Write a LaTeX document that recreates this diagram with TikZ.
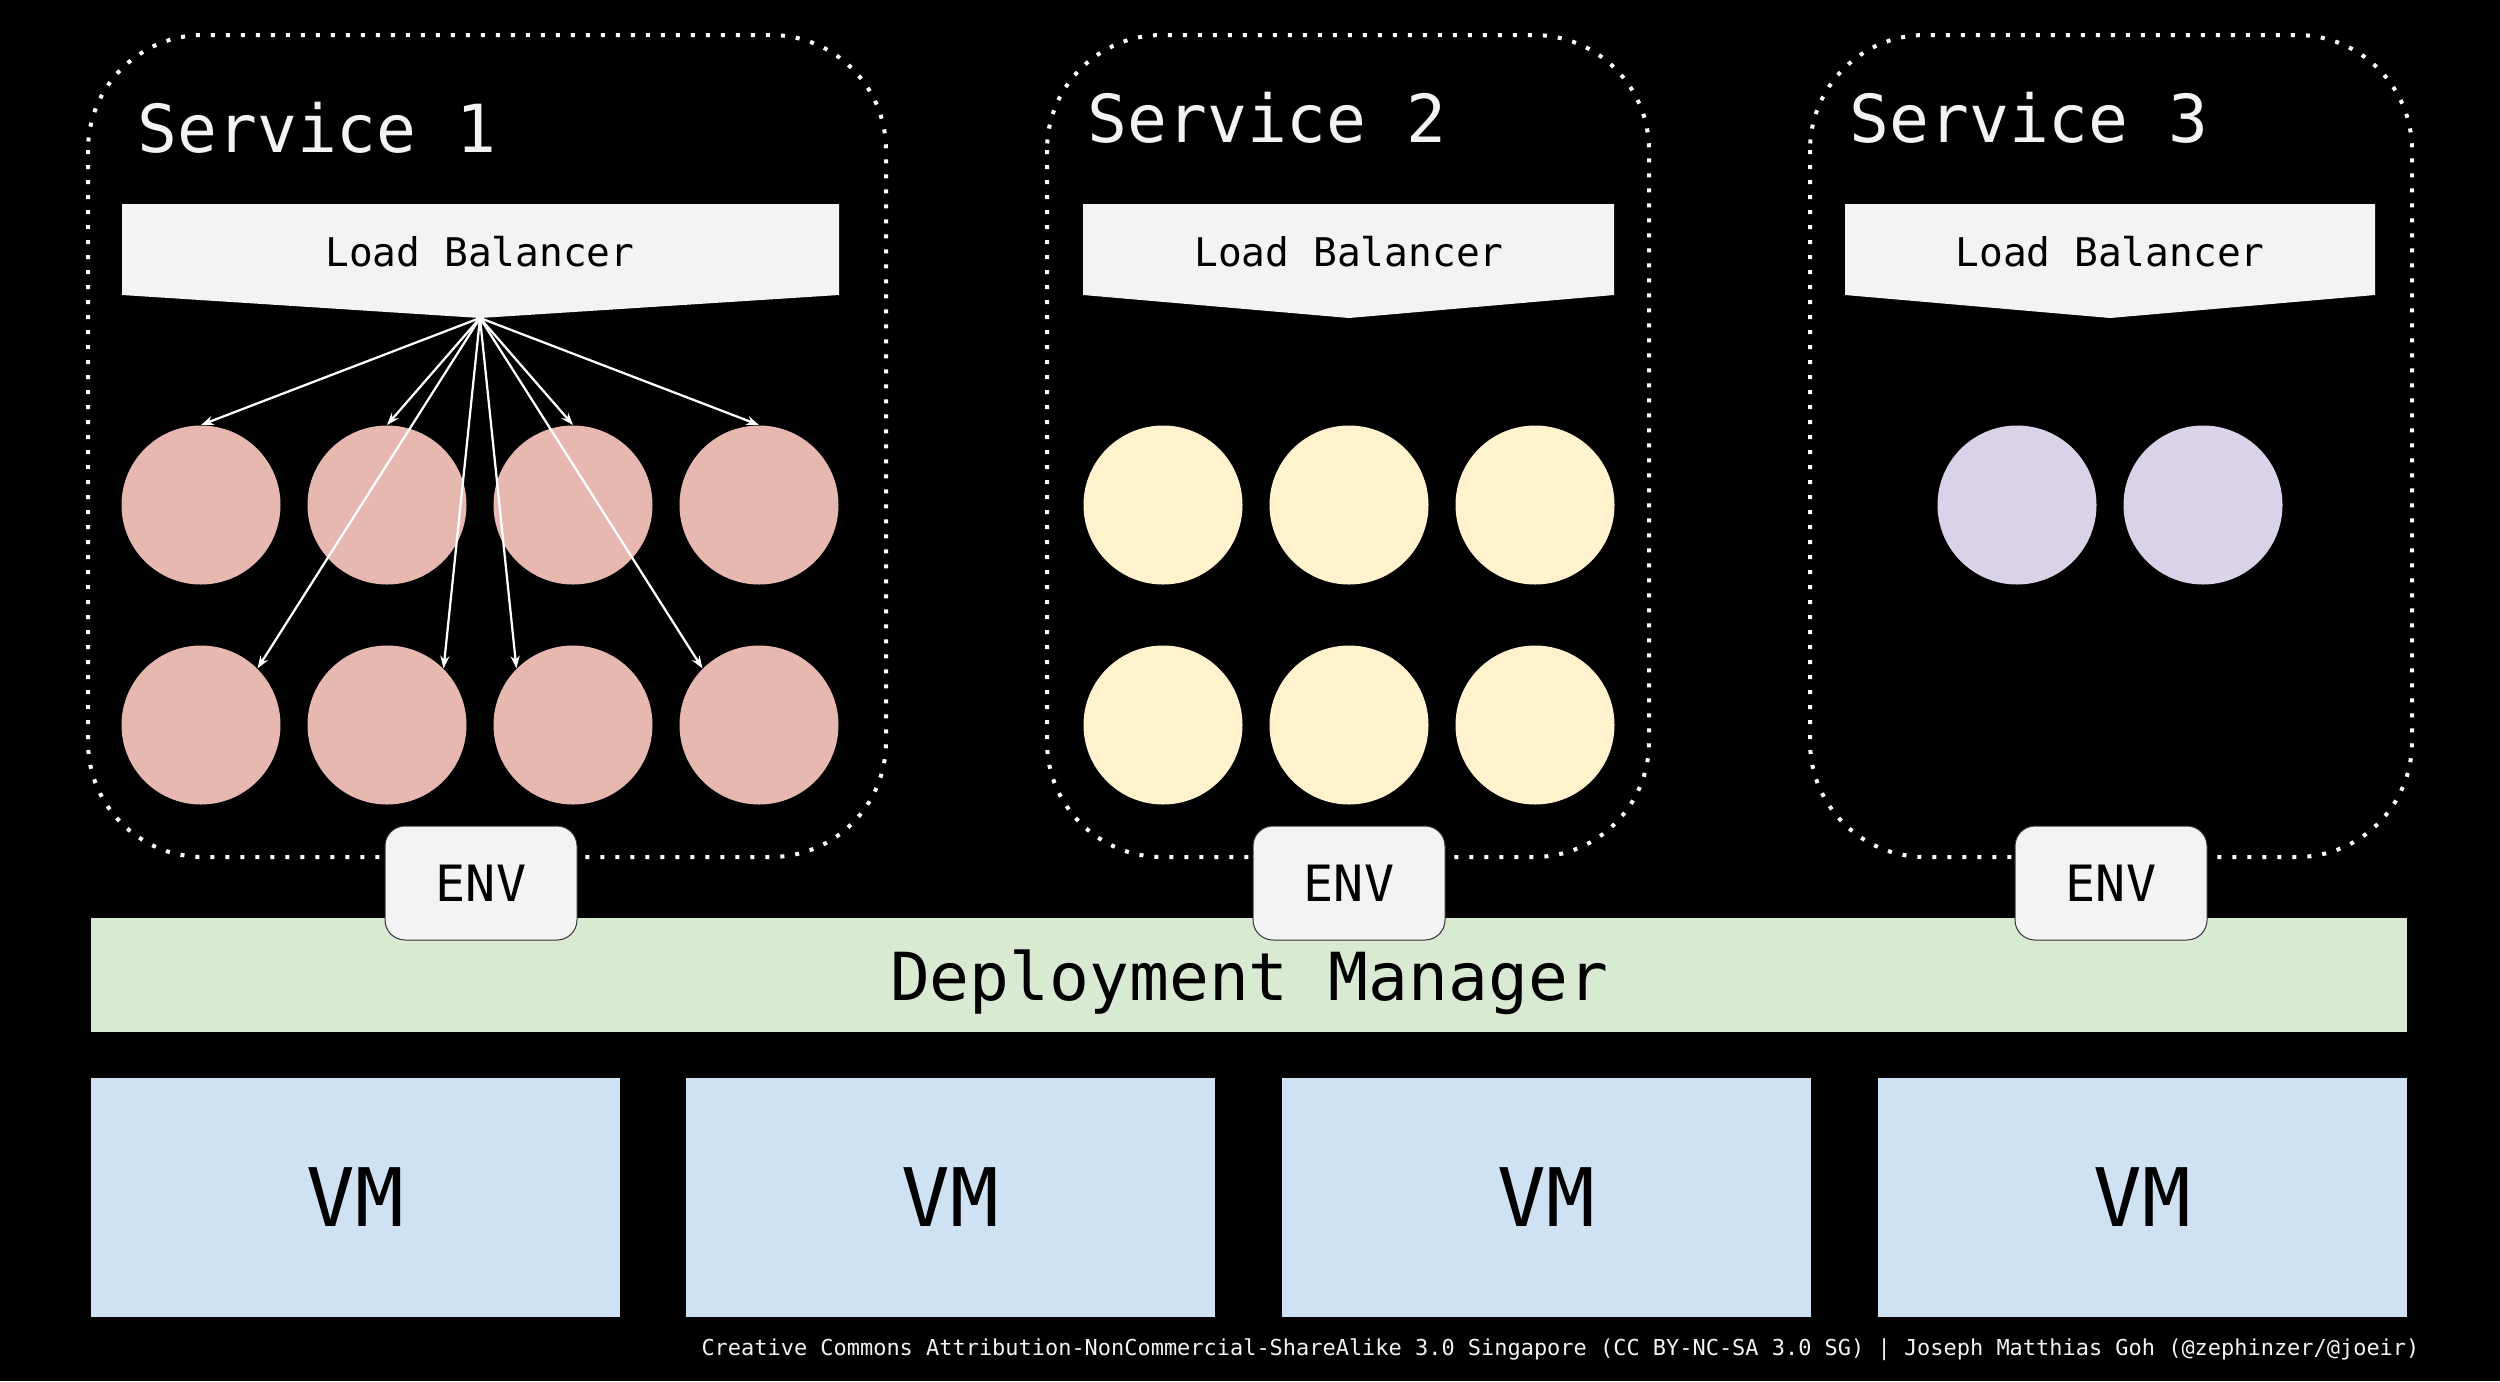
\documentclass[tikz,border=0pt]{standalone}
\usepackage{fontspec}
\setmonofont{DejaVu Sans Mono}
\usetikzlibrary{arrows.meta}
\definecolor{lbgray}{HTML}{F3F3F3}
\definecolor{podred}{HTML}{E6B8AF}
\definecolor{podyellow}{HTML}{FFF2CC}
\definecolor{podpurple}{HTML}{D9D2E9}
\definecolor{dmgreen}{HTML}{D9EAD3}
\definecolor{vmblue}{HTML}{CFE2F3}
\definecolor{envline}{HTML}{333333}
\tikzset{
  svcbox/.style={draw=white, line width=1.6pt, dash pattern=on 1.6pt off 4.4pt, rounded corners=46pt},
  svctitle/.style={anchor=base west, inner sep=0pt, text=lbgray, font=\ttfamily\fontsize{26.5pt}{30pt}\selectfont},
  lbshape/.style={fill=lbgray},
  lbtext/.style={inner sep=0pt, text=black, font=\ttfamily\fontsize{15.8pt}{18pt}\selectfont},
  pod/.style={circle, inner sep=0pt, minimum size=63.6pt},
  envbox/.style={draw=envline, line width=0.4pt, fill=lbgray, rounded corners=8pt, minimum width=76.8pt, minimum height=45.6pt, inner sep=0pt, text=black, font=\ttfamily\fontsize{20pt}{24pt}\selectfont},
  dmbar/.style={fill=dmgreen, minimum width=926.4pt, minimum height=45.6pt, inner sep=0pt, text depth=0pt, text=black, font=\ttfamily\fontsize{26.5pt}{30pt}\selectfont},
  vmbox/.style={fill=vmblue, minimum width=211.6pt, minimum height=95.6pt, inner sep=0pt, text=black, font=\ttfamily\fontsize{32.3pt}{36pt}\selectfont},
  lbarrow/.style={draw=white, line width=0.9pt, -{Stealth[length=5pt,width=3.6pt]}},
  footer/.style={anchor=base east, inner sep=0pt, text=lbgray, font=\ttfamily\fontsize{8.78pt}{10pt}\selectfont}
}
\begin{document}
\begin{tikzpicture}[x=0.4pt,y=-0.4pt]
\path[use as bounding box, fill=black] (0,0) rectangle (2500,1381);

% service boxes
\draw[svcbox] (88,35) rectangle (886,857);
\draw[svcbox] (1047,35) rectangle (1649,857);
\draw[svcbox] (1810,35) rectangle (2412,857);

\node[svctitle] (t1) at (137,152) {Service 1};
\node[svctitle] (t2) at (1087,142) {Service 2};
\node[svctitle] (t3) at (1849,142) {Service 3};

% load balancers
\fill[lbshape] (122,204) -- (839,204) -- (839,295) -- (480,318) -- (122,295) -- cycle;
\fill[lbshape] (1083,204) -- (1614,204) -- (1614,295) -- (1349,318) -- (1083,295) -- cycle;
\fill[lbshape] (1845,204) -- (2375,204) -- (2375,295) -- (2110,318) -- (1845,295) -- cycle;
\node[lbtext] (lb1) at (480,252) {Load Balancer};
\node[lbtext] (lb2) at (1349,252) {Load Balancer};
\node[lbtext] (lb3) at (2110,252) {Load Balancer};
\coordinate (lb1tip) at (480,318);

% service 1 pods
\node[pod, fill=podred] (a1) at (201,505) {};
\node[pod, fill=podred] (a2) at (387,505) {};
\node[pod, fill=podred] (a3) at (573,505) {};
\node[pod, fill=podred] (a4) at (759,505) {};
\node[pod, fill=podred] (a5) at (201,725) {};
\node[pod, fill=podred] (a6) at (387,725) {};
\node[pod, fill=podred] (a7) at (573,725) {};
\node[pod, fill=podred] (a8) at (759,725) {};

% service 2 pods
\node[pod, fill=podyellow] (b1) at (1163,505) {};
\node[pod, fill=podyellow] (b2) at (1349,505) {};
\node[pod, fill=podyellow] (b3) at (1535,505) {};
\node[pod, fill=podyellow] (b4) at (1163,725) {};
\node[pod, fill=podyellow] (b5) at (1349,725) {};
\node[pod, fill=podyellow] (b6) at (1535,725) {};

% service 3 pods
\node[pod, fill=podpurple] (c1) at (2017,505) {};
\node[pod, fill=podpurple] (c2) at (2203,505) {};

% arrows
\draw[lbarrow] (lb1tip) -- (a1.north);
\draw[lbarrow] (lb1tip) -- (a2.north);
\draw[lbarrow] (lb1tip) -- (a3.north);
\draw[lbarrow] (lb1tip) -- (a4.north);
\draw[lbarrow] (lb1tip) -- (a5.north east);
\draw[lbarrow] (lb1tip) -- (a6.north east);
\draw[lbarrow] (lb1tip) -- (a7.north west);
\draw[lbarrow] (lb1tip) -- (a8.north west);

% deployment manager
\node[dmbar] (dm) at (1249,975) {Deployment Manager};

% env boxes
\node[envbox] (env1) at (481,883) {ENV};
\node[envbox] (env2) at (1349,883) {ENV};
\node[envbox] (env3) at (2111,883) {ENV};

% VMs
\node[vmbox] (vm1) at (355.5,1197.5) {VM};
\node[vmbox] (vm2) at (950.5,1197.5) {VM};
\node[vmbox] (vm3) at (1546.5,1197.5) {VM};
\node[vmbox] (vm4) at (2142,1197.5) {VM};

\node[footer] (foot) at (2420,1355) {Creative Commons Attribution-NonCommercial-ShareAlike 3.0 Singapore (CC BY-NC-SA 3.0 SG) | Joseph Matthias Goh (@zephinzer/@joeir)};
\end{tikzpicture}
\end{document}
